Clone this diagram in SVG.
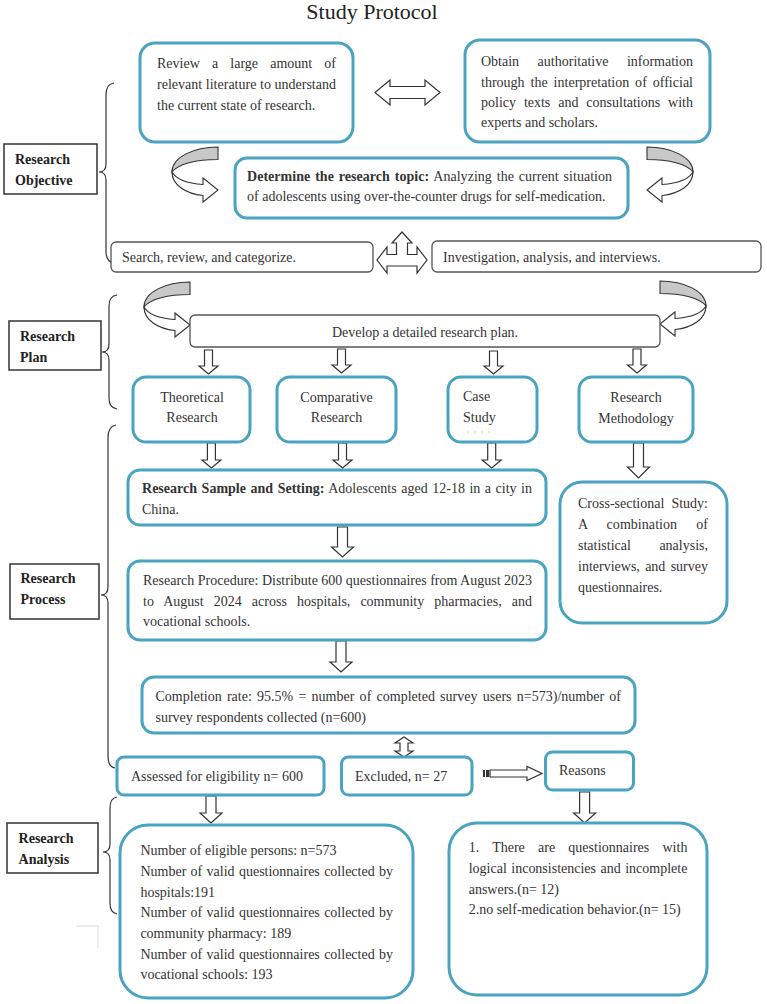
<svg xmlns="http://www.w3.org/2000/svg" xmlns:xlink="http://www.w3.org/1999/xlink" width="767" height="1004" viewBox="0 0 767 1004">
<style>
.t{font-family:"Liberation Serif","Times New Roman",serif;font-size:14px;fill:#333}
.b{font-weight:bold}
.lbl{font-family:"Liberation Serif","Times New Roman",serif;font-size:14px;font-weight:bold;fill:#222}
.teal{fill:#fff;stroke:#4aa3c0;stroke-width:3}
.gray{fill:#fff;stroke:#555;stroke-width:1.3}
.lab{fill:#fff;stroke:#333;stroke-width:1.5}
.arr{fill:#fff;stroke:#333;stroke-width:1.2;stroke-linejoin:miter}
.brace{fill:none;stroke:#333;stroke-width:1.2}
.back{fill:#c8c8c8;stroke:#333;stroke-width:1.1}
.front{fill:#fff;stroke:#333;stroke-width:1.1}
</style>
<defs>
<g id="ca">
<path class="back" d="M218,147 C194,147 172,157 172,172 C178,164 196,159.5 218,159.5 Z"/>
<path class="front" d="M172,172 C172,185 186,194 203,195.5 L203,202 L218,190 L203,178 L203,184.5 C188,183.5 176,179 172,172 Z"/>
</g>
</defs>
<rect width="767" height="1004" fill="#fff"/>
<text x="372" y="19" text-anchor="middle" style="font-family:'Liberation Serif','Times New Roman',serif;font-size:22px;fill:#222">Study Protocol</text>

<g id="connectors">
<path class="brace" d="M114,83 Q106,84 106,95 L106,164 Q106,172 99,172 Q106,172 106,180 L106,251 Q106,262 114,263"/>
<path class="brace" d="M117,295 Q109,296 109,306 L109,344 Q109,352 102,352 Q109,352 109,360 L109,398 Q109,408 117,409"/>
<path class="brace" d="M116,425 Q108,426 108,438 L108,587 Q108,595 101,595 Q108,595 108,603 L108,756 Q108,767 115,768"/>
<path class="brace" d="M117,797 Q110,798 110,808 L110,844 Q110,852 103,852 Q110,852 110,860 L110,903 Q110,913 117,914"/>
<polyline points="76,926 98,926 98,948" fill="none" stroke="#ddd" stroke-width="1"/>
<polygon class="arr" points="375,92.5 390,80 390,86.5 425,86.5 425,80 440,92.5 425,105 425,98.5 390,98.5 390,105"/>
<use xlink:href="#ca"/>
<use xlink:href="#ca" transform="translate(865,0) scale(-1,1)"/>
<polygon class="arr" points="402,232 412,243 407.5,243 407.5,254.5 417,254.5 417,247 427,260 417,273 417,266 387,266 387,273 377,260 387,247 387,254.5 396.5,254.5 396.5,243 392,243"/>
<use xlink:href="#ca" transform="translate(-28,135)"/>
<use xlink:href="#ca" transform="translate(878,134) scale(-1,1)"/>
<polygon class="arr" points="204.5,350 212.5,350 212.5,366 218,366 208.5,374 199,366 204.5,366"/>
<polygon class="arr" points="337.5,349 345.5,349 345.5,365 351,365 341.5,373 332,365 337.5,365"/>
<polygon class="arr" points="489.5,351 497.5,351 497.5,366 503,366 493.5,374 484,366 489.5,366"/>
<polygon class="arr" points="633,349 641,349 641,365 646.5,365 637,373 627.5,365 633,365"/>
<polygon class="arr" points="207.4,443 215.4,443 215.4,460 220.9,460 211.4,468 201.9,460 207.4,460"/>
<polygon class="arr" points="338.5,443 346.5,443 346.5,460 352,460 342.5,468 333,460 338.5,460"/>
<polygon class="arr" points="487.7,443 495.7,443 495.7,460 501.2,460 491.7,468 482.2,460 487.7,460"/>
<polygon class="arr" points="633.5,443 643.5,443 643.5,467 649.5,467 638.5,478 627.5,467 633.5,467"/>
<polygon class="arr" points="337.5,527 347.5,527 347.5,547 353.5,547 342.5,557 331.5,547 337.5,547"/>
<polygon class="arr" points="336,641 346,641 346,662 352,662 341,672 330,662 336,662"/>
<polygon class="arr" points="404,737 413,743 408,743 408,751 413,751 404,757 395,751 400,751 400,743 395,743"/>
<rect x="483" y="770" width="2" height="7" fill="#333"/>
<rect x="486" y="770" width="3" height="7" fill="#333"/>
<polygon class="arr" points="490,770 527,770 527,766.5 542,773.5 527,780.5 527,777 490,777"/>
<polygon class="arr" points="206,796 216,796 216,813 222,813 211,823 200,813 206,813"/>
<polygon class="arr" points="579.6,792 589.6,792 589.6,813 595.6,813 584.6,823 573.6,813 579.6,813"/>
</g>

<g id="label-objective">
<rect class="lab" x="4" y="144" width="93" height="50"/>
<text class="lbl" x="15" y="164">Research</text>
<text class="lbl" x="15" y="185">Objective</text>
</g>
<g id="label-plan">
<rect class="lab" x="9" y="321" width="92" height="49"/>
<text class="lbl" x="20" y="341">Research</text>
<text class="lbl" x="20" y="362">Plan</text>
</g>
<g id="label-process">
<rect class="lab" x="10" y="564" width="89" height="55"/>
<text class="lbl" x="20.5" y="583">Research</text>
<text class="lbl" x="20.5" y="604">Process</text>
</g>
<g id="label-analysis">
<rect class="lab" x="7" y="823" width="91" height="50"/>
<text class="lbl" x="18.6" y="843">Research</text>
<text class="lbl" x="18.6" y="864">Analysis</text>
</g>

<g id="review">
<rect class="teal" x="140" y="43" width="213" height="99" rx="15"/>
<text class="t" x="157" y="68" textLength="179" lengthAdjust="spacing" word-spacing="8.6">Review a large amount of</text>
<text class="t" x="157" y="89" textLength="179" lengthAdjust="spacing">relevant literature to understand</text>
<text class="t" x="157" y="110">the current state of research.</text>
</g>
<g id="obtain">
<rect class="teal" x="465" y="40" width="245" height="102" rx="15"/>
<text class="t" x="481" y="66" textLength="212" lengthAdjust="spacing" word-spacing="15">Obtain authoritative information</text>
<text class="t" x="481" y="87" textLength="212" lengthAdjust="spacing" word-spacing="2.4">through the interpretation of official</text>
<text class="t" x="481" y="107" textLength="212" lengthAdjust="spacing" word-spacing="4.4">policy texts and consultations with</text>
<text class="t" x="481" y="127">experts and scholars.</text>
</g>
<g id="topic">
<rect class="teal" x="235" y="158" width="393" height="60" rx="12"/>
<text class="t" x="247" y="181" textLength="365" lengthAdjust="spacing" word-spacing="1.4"><tspan class="b">Determine the research topic:</tspan> Analyzing the current situation</text>
<text class="t" x="247" y="201">of adolescents using over-the-counter drugs for self-medication.</text>
</g>
<g id="search">
<rect class="gray" x="111" y="242" width="262" height="30" rx="5"/>
<text class="t" x="122" y="262">Search, review, and categorize.</text>
</g>
<g id="investigation">
<rect class="gray" x="432" y="241" width="329" height="31" rx="5"/>
<text class="t" x="443" y="262">Investigation, analysis, and interviews.</text>
</g>
<g id="plan">
<rect class="gray" x="190" y="315" width="470" height="32" rx="5"/>
<text class="t" x="425" y="337" text-anchor="middle">Develop a detailed research plan.</text>
</g>
<g id="theoretical">
<rect class="teal" x="133" y="377" width="117" height="65" rx="13"/>
<text class="t" x="192" y="402" text-anchor="middle">Theoretical</text>
<text class="t" x="192" y="422" text-anchor="middle">Research</text>
</g>
<g id="comparative">
<rect class="teal" x="277" y="377" width="119" height="65" rx="13"/>
<text class="t" x="336.5" y="402" text-anchor="middle">Comparative</text>
<text class="t" x="336.5" y="422" text-anchor="middle">Research</text>
</g>
<g id="case">
<rect class="teal" x="448" y="377" width="89" height="65" rx="13"/>
<text class="t" x="463" y="401">Case</text>
<text class="t" x="463" y="422">Study</text>
<line x1="467" y1="432" x2="495" y2="432" stroke="#f2c79a" stroke-width="1" stroke-dasharray="2 5"/>
</g>
<g id="methodology">
<rect class="teal" x="579" y="377" width="114" height="65" rx="13"/>
<text class="t" x="636" y="402" text-anchor="middle">Research</text>
<text class="t" x="636" y="423" text-anchor="middle">Methodology</text>
</g>
<g id="sample">
<rect class="teal" x="128" y="470" width="418" height="55" rx="12"/>
<text class="t" x="142" y="493" textLength="390" lengthAdjust="spacing" word-spacing="1"><tspan class="b">Research Sample and Setting:</tspan> Adolescents aged 12-18 in a city in</text>
<text class="t" x="142" y="514">China.</text>
</g>
<g id="cross">
<rect class="teal" x="560" y="482" width="167" height="141" rx="22"/>
<text class="t" x="578" y="508" textLength="130" lengthAdjust="spacing" word-spacing="3.6">Cross-sectional Study:</text>
<text class="t" x="578" y="529" textLength="130" lengthAdjust="spacing" word-spacing="15.6">A combination of</text>
<text class="t" x="578" y="550" textLength="130" lengthAdjust="spacing" word-spacing="25">statistical analysis,</text>
<text class="t" x="578" y="571" textLength="130" lengthAdjust="spacing" word-spacing="1.8">interviews, and survey</text>
<text class="t" x="578" y="592">questionnaires.</text>
</g>
<g id="procedure">
<rect class="teal" x="128" y="561" width="418" height="79" rx="12"/>
<text class="t" x="143" y="585" textLength="389" lengthAdjust="spacing">Research Procedure: Distribute 600 questionnaires from August 2023</text>
<text class="t" x="143" y="606" textLength="389" lengthAdjust="spacing" word-spacing="6.5">to August 2024 across hospitals, community pharmacies, and</text>
<text class="t" x="143" y="626">vocational schools.</text>
</g>
<g id="completion">
<rect class="teal" x="142" y="677" width="493" height="56" rx="12"/>
<text class="t" x="155.5" y="701" textLength="465.5" lengthAdjust="spacing" word-spacing="1.7">Completion rate: 95.5% = number of completed survey users n=573)/number of</text>
<text class="t" x="155.5" y="722">survey respondents collected (n=600)</text>
</g>
<g id="assessed">
<rect class="teal" x="117" y="757" width="207" height="38" rx="7"/>
<text class="t" x="131" y="781">Assessed for eligibility n= 600</text>
</g>
<g id="excluded">
<rect class="teal" x="341.5" y="757" width="130.5" height="38" rx="7"/>
<text class="t" x="355" y="781">Excluded, n= 27</text>
</g>
<g id="reasons">
<rect class="teal" x="545.5" y="752" width="88" height="38" rx="7"/>
<text class="t" x="559" y="775">Reasons</text>
</g>
<g id="eligible">
<rect class="teal" x="120" y="825" width="293" height="173" rx="28"/>
<text class="t" x="140.4" y="855">Number of eligible persons: n=573</text>
<text class="t" x="140.4" y="876" textLength="252.6" lengthAdjust="spacing" word-spacing="0.8">Number of valid questionnaires collected by</text>
<text class="t" x="140.4" y="897">hospitals:191</text>
<text class="t" x="140.4" y="917" textLength="252.6" lengthAdjust="spacing" word-spacing="0.8">Number of valid questionnaires collected by</text>
<text class="t" x="140.4" y="938">community pharmacy: 189</text>
<text class="t" x="140.4" y="959" textLength="252.6" lengthAdjust="spacing" word-spacing="0.8">Number of valid questionnaires collected by</text>
<text class="t" x="140.4" y="979">vocational schools: 193</text>
</g>
<g id="reasons-detail">
<rect class="teal" x="449" y="823" width="258" height="172" rx="28"/>
<text class="t" x="468.7" y="852" textLength="218.7" lengthAdjust="spacing" word-spacing="9.7">1. There are questionnaires with</text>
<text class="t" x="468.7" y="873" textLength="218.7" lengthAdjust="spacing" word-spacing="1">logical inconsistencies and incomplete</text>
<text class="t" x="468.7" y="894">answers.(n= 12)</text>
<text class="t" x="468.7" y="914">2.no self-medication behavior.(n= 15)</text>
</g>
</svg>
